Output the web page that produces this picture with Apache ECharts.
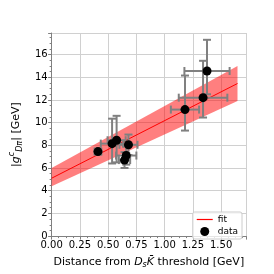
<!DOCTYPE html>
<html>
<head>
<meta charset="utf-8">
<script src="https://cdn.jsdelivr.net/npm/echarts@6/dist/echarts.min.js"></script>
<style>html,body{margin:0;padding:0;background:#fff}#c{width:274px;height:274px}</style>
</head>
<body>
<div id="c"></div>
<script>
// Data points (distance from threshold [GeV], |g| [GeV])
var ptX     = [0.41, 0.535, 0.575, 0.68, 0.66, 0.645, 1.18, 1.34, 1.375];
var ptY     = [7.45, 8.15, 8.45, 8.05, 7.10, 6.70, 11.15, 12.20, 14.55];
var ptXErr  = [0.03, 0.10, 0.08, 0.08, 0.09, 0.05, 0.125, 0.215, 0.20];
var ptYErrLo= [0.25, 1.75, 1.95, 0.90, 0.80, 0.70, 1.85, 1.75, 2.05];
var ptYErrHi= [0.25, 2.20, 2.15, 0.90, 0.80, 0.70, 3.00, 3.25, 2.75];

// Fit line and band (read at the end points)
var fitX     = [0.0, 1.645];
var fitY     = [5.10, 13.45];
var bandLow  = [4.40, 11.90];
var bandHigh = [6.00, 15.00];

// Axis ticks
var xTicks = [0.00, 0.25, 0.50, 0.75, 1.00, 1.25, 1.50];
var yTicks = [0, 2, 4, 6, 8, 10, 12, 14, 16];

var errData = ptX.map(function (x, i) {
  return [x, ptY[i], ptXErr[i], ptYErrLo[i], ptYErrHi[i]];
});
var ptData = ptX.map(function (x, i) { return [x, ptY[i]]; });
var fitData = fitX.map(function (x, i) { return [x, fitY[i]]; });
var bandData = [];
for (var i = 0; i < fitX.length - 1; i++) {
  bandData.push([fitX[i], bandLow[i], bandHigh[i], fitX[i + 1], bandLow[i + 1], bandHigh[i + 1]]);
}

var chart = echarts.init(document.getElementById('c'), null, {renderer: 'canvas'});
var FONT = 'DejaVu Sans';
var GRID = '#d0d0d0';
var AX = '#808080';

function near(v, arr) {
  for (var k = 0; k < arr.length; k++) if (Math.abs(v - arr[k]) < 1e-6) return true;
  return false;
}

chart.setOption({
  animation: false,
  backgroundColor: '#fff',
  grid: {left: 34, right: 28, top: 33, bottom: 30, containLabel: false},
  legend: {
    orient: 'vertical',
    right: 32, bottom: 35,
    itemWidth: 16, itemHeight: 9, itemGap: 3,
    padding: [3, 4, 3, 4],
    borderColor: '#cccccc', borderWidth: 1, borderRadius: 2,
    backgroundColor: 'rgba(255,255,255,0.8)',
    symbolKeepAspect: true,
    textStyle: {fontFamily: FONT, fontSize: 9, color: '#000', padding: [0, 0, 0, 0]},
    data: [
      {name: 'fit', icon: 'path://M0,0 L16,0 L16,1.2 L0,1.2 Z', itemStyle: {color: '#ff0000'}},
      {name: 'data', icon: 'circle'}
    ]
  },
  xAxis: {
    type: 'value', min: 0, max: 1.72, interval: 0.25,
    name: 'Distance from {i|D}{sub|s}{i|K̄} threshold [GeV]',
    nameLocation: 'middle', nameGap: 15,
    nameTextStyle: {
      fontFamily: FONT, fontSize: 11, color: '#000', lineHeight: 14,
      rich: {
        i: {fontFamily: FONT, fontStyle: 'italic', fontSize: 11, color: '#000'},
        sub: {fontFamily: FONT, fontStyle: 'italic', fontSize: 8, color: '#000', verticalAlign: 'bottom', lineHeight: 14, padding: [4, 0, 0, 0]}
      }
    },
    axisLine: {show: true, onZero: false, lineStyle: {color: AX, width: 1}},
    axisTick: {show: true, length: 3.5, inside: false, lineStyle: {color: AX}},
    minorTick: {show: true, splitNumber: 4, length: 2, lineStyle: {color: AX}},
    splitLine: {show: true, lineStyle: {color: GRID, width: 1}},
    axisLabel: {
      fontFamily: FONT, fontSize: 10, color: '#000', margin: 4, showMaxLabel: false,
      formatter: function (v) { return near(v, xTicks) ? v.toFixed(2) : ''; }
    }
  },
  yAxis: {
    type: 'value', min: 0, max: 17.9, interval: 2,
    name: '|{i|g}{sup|c}{sub|Dπ}| [GeV]',
    nameLocation: 'middle', nameGap: 19, nameRotate: 90,
    nameTextStyle: {
      fontFamily: FONT, fontSize: 11, color: '#000', lineHeight: 16,
      rich: {
        i: {fontFamily: FONT, fontStyle: 'italic', fontSize: 11, color: '#000'},
        sup: {fontFamily: FONT, fontStyle: 'italic', fontSize: 8, color: '#000', verticalAlign: 'top', lineHeight: 16},
        sub: {fontFamily: FONT, fontStyle: 'italic', fontSize: 8, color: '#000', verticalAlign: 'bottom', lineHeight: 16, padding: [5, 0, 0, 0]}
      }
    },
    axisLine: {show: true, onZero: false, lineStyle: {color: AX, width: 1}},
    axisTick: {show: true, length: 3.5, inside: false, lineStyle: {color: AX}},
    minorTick: {show: true, splitNumber: 4, length: 2, lineStyle: {color: AX}},
    splitLine: {show: true, lineStyle: {color: GRID, width: 1}},
    axisLabel: {
      fontFamily: FONT, fontSize: 10, color: '#000', margin: 4, showMaxLabel: false,
      formatter: function (v) { return near(v, yTicks) ? String(v) : ''; }
    }
  },
  series: [
    {
      type: 'custom', name: 'band', clip: true, silent: true, z: 1,
      data: bandData,
      renderItem: function (params, api) {
        var a = api.coord([api.value(0), api.value(1)]);
        var b = api.coord([api.value(3), api.value(4)]);
        var c = api.coord([api.value(3), api.value(5)]);
        var d = api.coord([api.value(0), api.value(2)]);
        return {type: 'polygon', shape: {points: [a, b, c, d]}, style: {fill: 'rgba(255,0,0,0.5)', stroke: null}};
      }
    },
    {
      type: 'line', name: 'fit', data: fitData, symbol: 'none', z: 2,
      lineStyle: {color: '#ff0000', width: 1},
      itemStyle: {color: '#ff0000'}
    },
    {
      type: 'custom', name: 'errors', clip: true, silent: true, z: 3,
      data: errData,
      renderItem: function (params, api) {
        var x = api.value(0), y = api.value(1), xe = api.value(2), lo = api.value(3), hi = api.value(4);
        var L = api.coord([x - xe, y]), R = api.coord([x + xe, y]);
        var T = api.coord([x, y + hi]), B = api.coord([x, y - lo]);
        var cap = 4;
        var st = {stroke: '#808080', lineWidth: 2};
        return {
          type: 'group',
          children: [
            {type: 'line', shape: {x1: L[0], y1: L[1], x2: R[0], y2: R[1]}, style: st},
            {type: 'line', shape: {x1: T[0], y1: T[1], x2: B[0], y2: B[1]}, style: st},
            {type: 'line', shape: {x1: L[0], y1: L[1] - cap, x2: L[0], y2: L[1] + cap}, style: st},
            {type: 'line', shape: {x1: R[0], y1: R[1] - cap, x2: R[0], y2: R[1] + cap}, style: st},
            {type: 'line', shape: {x1: T[0] - cap, y1: T[1], x2: T[0] + cap, y2: T[1]}, style: st},
            {type: 'line', shape: {x1: B[0] - cap, y1: B[1], x2: B[0] + cap, y2: B[1]}, style: st}
          ]
        };
      }
    },
    {
      type: 'scatter', name: 'data', data: ptData, symbol: 'circle', symbolSize: 9, z: 4,
      itemStyle: {color: '#000000', opacity: 1}
    }
  ]
});
</script>
</body>
</html>
